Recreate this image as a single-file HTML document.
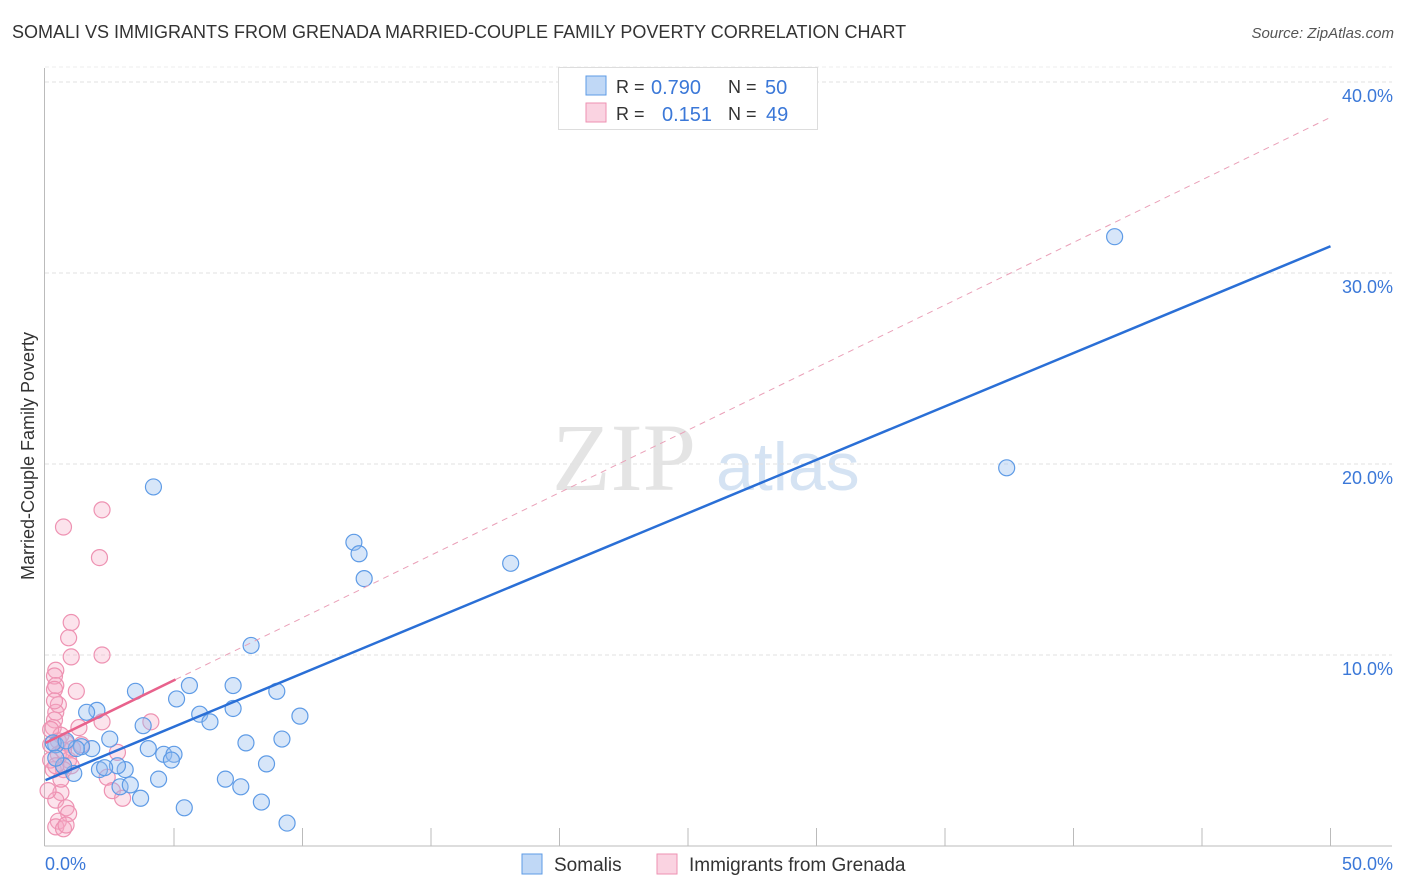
<!DOCTYPE html>
<html><head><meta charset="utf-8"><style>
body{margin:0;background:#fff;font-family:"Liberation Sans",sans-serif;}
#wrap{position:relative;width:1406px;height:892px;overflow:hidden;}
.t{position:absolute;white-space:nowrap;}
</style></head><body>
<div id="wrap">
<div class="t" style="left:12px;top:22px;font-size:18px;color:#333;">SOMALI VS IMMIGRANTS FROM GRENADA MARRIED-COUPLE FAMILY POVERTY CORRELATION CHART</div>
<div class="t" style="right:12px;top:25px;font-size:15px;color:#555;font-style:italic;">Source: ZipAtlas.com</div>
<svg id="svg" width="1406" height="892" style="position:absolute;left:0;top:0"></svg>
</div>
<script>
const xTicks=[0,5,10,15,20,25,30,35,40,45,50];
const yTicks=[10,20,30,40];
const blueX=[41.6,37.4,18.1,12.0,12.2,12.4,4.2,8.0,3.5,5.6,5.1,7.3,9.0,7.3,6.0,6.4,9.9,3.8,2.0,1.6,2.5,7.8,9.2,4.0,4.6,5.0,4.9,1.8,1.4,1.2,8.6,3.1,2.8,2.1,2.3,4.4,7.0,7.6,2.9,3.3,3.7,5.4,8.4,9.4,1.1,0.7,0.4,0.3,0.4,0.8];
const blueY=[31.9,19.8,14.8,15.9,15.3,14.0,18.8,10.5,8.1,8.4,7.7,8.4,8.1,7.2,6.9,6.5,6.8,6.3,7.1,7.0,5.6,5.4,5.6,5.1,4.8,4.8,4.5,5.1,5.2,5.1,4.3,4.0,4.2,4.0,4.1,3.5,3.5,3.1,3.1,3.2,2.5,2.0,2.3,1.2,3.8,4.2,5.3,5.4,4.6,5.5];
const pinkX=[0.7,2.2,2.1,1.0,0.9,1.0,2.2,0.4,0.35,0.4,0.35,1.2,0.5,0.4,0.35,0.3,2.2,4.1,1.3,0.6,0.5,0.2,0.8,2.8,0.5,0.9,1.0,0.3,0.7,2.4,2.6,3.0,0.6,0.4,0.8,0.9,0.5,0.4,0.7,0.8,0.2,0.2,0.35,0.6,0.1,1.05,1.4,0.7,0.4];
const pinkY=[16.7,17.6,15.1,11.7,10.9,9.9,10.0,9.2,8.9,8.4,8.2,8.1,7.4,7.0,6.6,6.2,6.5,6.5,6.2,5.8,5.5,5.3,5.4,4.9,4.8,4.5,4.2,4.0,4.0,3.6,2.9,2.5,2.8,2.4,2.0,1.7,1.3,1.0,0.9,1.1,4.5,6.1,7.6,3.5,2.9,5.1,5.3,5.0,4.2];
const trendBlue=[3.45,0.559];
const trendPink=[5.4,0.655];
const pinkSolidEnd=5.06;

const NS="http://www.w3.org/2000/svg";
const svg=document.getElementById('svg');
const X=v=>45.5+v*25.7;
const Y=v=>846-v*19.1;
function mk(tag,a,parent){const e=document.createElementNS(NS,tag);for(const k in a)e.setAttribute(k,a[k]);(parent||svg).appendChild(e);return e;}

let w=mk('text',{x:552,y:490,'font-size':96,fill:'#e4e4e4','font-family':'Liberation Serif, serif'});w.textContent='ZIP';


let w2=mk('text',{x:716,y:490,'font-size':68,fill:'#d5e3f3','font-family':'Liberation Sans, sans-serif'});w2.textContent='atlas';



yTicks.forEach(t=>{
 const l=mk('line',{x1:45,x2:1392,y1:Y(t),y2:Y(t),stroke:'#e2e2e2','stroke-dasharray':'4,3'});
 
 
 const tx=mk('text',{x:1393,y:Y(t)+20,'text-anchor':'end','font-size':18,fill:'#3b78d8'});tx.textContent=t.toFixed(1)+'%';
 
 
});
mk('line',{x1:45,x2:1392,y1:Y(40)-15,y2:Y(40)-15,stroke:'#eee','stroke-dasharray':'4,3'});
const ya=mk('line',{x1:44.5,x2:44.5,y1:68,y2:846,stroke:'#bbb'});


const xa=mk('line',{x1:44.5,x2:1392,y1:846,y2:846,stroke:'#bbb'});


xTicks.forEach(t=>{if(t===0)return;const l=mk('line',{x1:X(t),x2:X(t),y1:828,y2:846,stroke:'#bbb'});
 
 });
const xl0=mk('text',{x:45,y:870,'font-size':18,fill:'#3b78d8'});xl0.textContent=xTicks[0].toFixed(1)+'%';


const xl1=mk('text',{x:1393,y:870,'text-anchor':'end','font-size':18,fill:'#3b78d8'});xl1.textContent=xTicks[xTicks.length-1].toFixed(1)+'%';


const yt=mk('text',{x:34,y:456,'font-size':18,fill:'#333','text-anchor':'middle',transform:'rotate(-90 34 456)'});yt.textContent='Married-Couple Family Poverty';



pinkX.forEach((x,i)=>{const c=mk('circle',{cx:X(x),cy:Y(pinkY[i]),r:8,fill:'rgba(246,168,195,0.32)',stroke:'#ee92b2','stroke-width':1.2});
 
 });
blueX.forEach((x,i)=>{const c=mk('circle',{cx:X(x),cy:Y(blueY[i]),r:8,fill:'rgba(150,190,240,0.38)',stroke:'#5e9be6','stroke-width':1.2});
 
 });

const pd=mk('line',{x1:X(pinkSolidEnd),y1:Y(trendPink[0]+trendPink[1]*pinkSolidEnd),x2:X(50),y2:Y(trendPink[0]+trendPink[1]*50),stroke:'#eaa0b8','stroke-width':1,'stroke-dasharray':'6,5'});


const ps=mk('line',{x1:X(0),y1:Y(trendPink[0]),x2:X(pinkSolidEnd),y2:Y(trendPink[0]+trendPink[1]*pinkSolidEnd),stroke:'#e8628c','stroke-width':2.5});


const bl=mk('line',{x1:X(0),y1:Y(trendBlue[0]),x2:X(50),y2:Y(trendBlue[0]+trendBlue[1]*50),stroke:'#2a6fd6','stroke-width':2.5});



const lg=mk('g',{});


mk('rect',{x:558.5,y:67.5,width:259,height:62,fill:'#fff',stroke:'#ddd'},lg);
mk('rect',{x:586,y:76,width:20,height:19,fill:'rgba(150,190,240,0.6)',stroke:'#5e9be6'},lg);
mk('rect',{x:586,y:103,width:20,height:19,fill:'rgba(246,168,195,0.5)',stroke:'#ee92b2'},lg);
function tx(x,y,s,c,a){const e=mk('text',{x:x,y:y,'font-size':a||20,fill:c},lg);e.textContent=s;return e;}
tx(616,93,'R =','#333',18);tx(651,94,'0.790','#3b78d8');tx(728,93,'N =','#333',18);tx(765,94,'50','#3b78d8');
tx(616,120,'R =','#333',18);tx(662,121,'0.151','#3b78d8');tx(728,120,'N =','#333',18);tx(766,121,'49','#3b78d8');

const bg=mk('g',{});


mk('rect',{x:522,y:854,width:20,height:20,fill:'rgba(150,190,240,0.6)',stroke:'#5e9be6'},bg);
let s1=mk('text',{x:554,y:871,'font-size':19,fill:'#333'},bg);s1.textContent='Somalis';
mk('rect',{x:657,y:854,width:20,height:20,fill:'rgba(246,168,195,0.5)',stroke:'#ee92b2'},bg);
let s2=mk('text',{x:689,y:871,'font-size':19,fill:'#333'},bg);s2.textContent='Immigrants from Grenada';
</script>
</body></html>
